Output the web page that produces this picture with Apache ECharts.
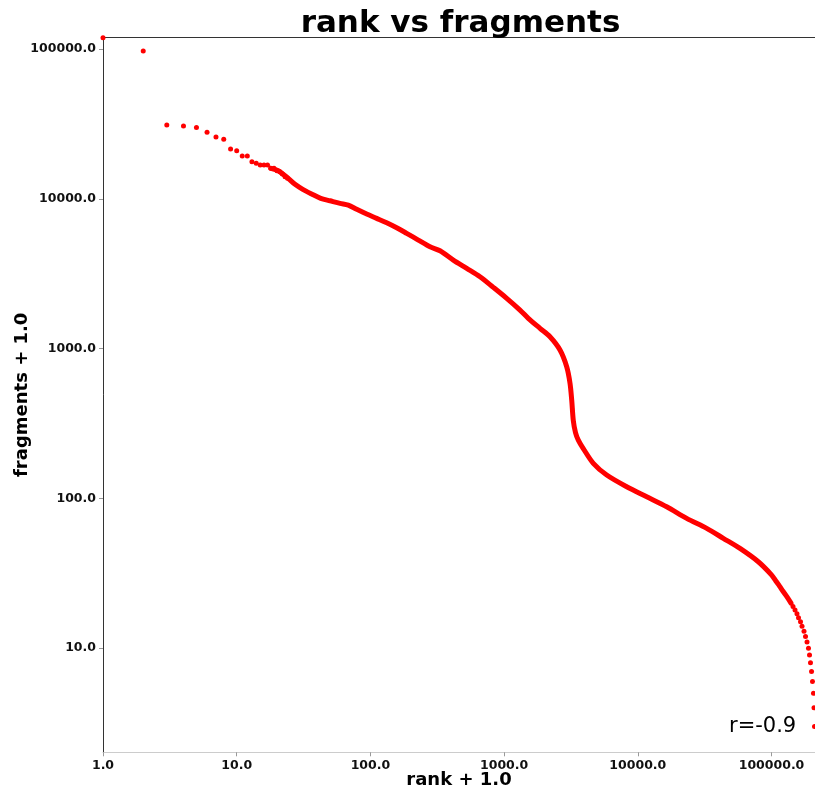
<!DOCTYPE html>
<html>
<head>
<meta charset="utf-8">
<script src="https://cdn.jsdelivr.net/npm/echarts@6/dist/echarts.min.js"></script>
<style>
html,body{margin:0;padding:0;background:#fff;}
#chart{width:815px;height:791px;}
</style>
</head>
<body>
<div id="chart"></div>
<script>
// ---- data ----
const headRank = [1, 2, 3, 4, 5, 6, 7, 8, 9, 10, 11, 12, 13, 14, 15, 16, 17, 18, 19, 20, 21, 22, 23, 24];
const headFrag = [119000, 97000, 31100, 30600, 30000, 27800, 25860, 24950, 21500, 20940, 19310, 19310, 17690, 17260, 16810, 16810, 16810, 15980, 15980, 15400, 15170, 14640, 14040, 13700];

const bodyRank = [18, 20.5, 22.1, 24.3, 27.3, 31.2, 36.4, 42.5, 49.9, 59.3, 68.3, 79, 93.8, 111.4, 132.4, 157.3, 186.8, 228.2, 279.1, 331.6, 417, 525.3, 660.2, 830.2, 1046, 1315, 1517, 1856, 2204, 2619, 2939, 3112, 3204, 3294, 3420, 3589, 3912, 4648, 5853, 8260, 11660, 16450, 23210, 32760, 43600, 58140, 79660, 100300, 108100, 114800, 121900, 130600, 139900];
const bodyFrag = [15980, 15400, 14640, 13700, 12500, 11570, 10770, 10080, 9710, 9330, 9090, 8510, 7915, 7410, 6926, 6415, 5885, 5309, 4788, 4502, 3904, 3436, 3020, 2566, 2167, 1810, 1594, 1366, 1200, 979, 757, 587, 454, 330, 275, 245, 215, 171.5, 143.3, 119.7, 102.6, 88.0, 73.6, 63.1, 54.2, 46.4, 37.8, 30.8, 28, 26, 24, 22, 20];

const tailRank = [144800, 149900, 155100, 159200, 164800, 169100, 175000, 179600, 184300, 189100, 192400, 195700, 199200, 202600, 206100, 207900, 209700];
const tailFrag = [19, 18, 17, 16, 15, 14, 13, 12, 11, 10, 9, 8, 7, 6, 5, 4, 3];

const xTicks = [1, 10, 100, 1000, 10000, 100000];
const yTicks = [10, 100, 1000, 10000, 100000];
const rText = 'r=-0.9';

const zip = (a, b) => a.map((v, i) => [v, b[i]]);
const fmt = v => {
  const l = Math.log10(v);
  return Math.abs(l - Math.round(l)) < 1e-6 ? Number(v).toFixed(1) : '';
};
const FONT = 'DejaVu Sans';
const RED = '#ff0000';

const chart = echarts.init(document.getElementById('chart'), null, {renderer: 'canvas'});
chart.setOption({
  animation: false,
  backgroundColor: '#ffffff',
  title: {
    text: 'rank vs fragments',
    left: 460.5,
    top: 8,
    padding: 0,
    textAlign: 'center',
    textStyle: {fontFamily: FONT, fontWeight: 'bold', fontSize: 31, color: '#000'}
  },
  grid: {left: 103, right: 0, top: 37.3, bottom: 38.7, containLabel: false, outerBoundsMode: 'none'},
  xAxis: [{
    type: 'log', logBase: 10, min: 1, max: 211500,
    position: 'bottom',
    name: 'rank + 1.0', nameLocation: 'middle', nameGap: 19, nameMoveOverlap: false,
    nameTextStyle: {fontFamily: FONT, fontWeight: 'bold', fontSize: 18, color: '#000', verticalAlign: 'top'},
    axisLine: {show: true, lineStyle: {color: '#cccccc', width: 1}},
    axisTick: {show: true, length: 4, customValues: xTicks, lineStyle: {color: '#999999'}},
    axisLabel: {show: true, customValues: xTicks, margin: 7, formatter: fmt,
      fontFamily: FONT, fontWeight: 'bold', fontSize: 12.5, color: '#111'},
    splitLine: {show: false}, minorTick: {show: false}
  }, {
    type: 'log', logBase: 10, min: 1, max: 211500,
    position: 'top',
    axisLine: {show: true, lineStyle: {color: '#333333', width: 1}},
    axisTick: {show: false}, axisLabel: {show: false}, splitLine: {show: false}
  }],
  yAxis: {
    type: 'log', logBase: 10, min: 2.02, max: 119800,
    name: 'fragments + 1.0', nameLocation: 'middle', nameGap: 72, nameRotate: 90, nameMoveOverlap: false,
    nameTextStyle: {fontFamily: FONT, fontWeight: 'bold', fontSize: 18, color: '#000'},
    axisLine: {show: true, lineStyle: {color: '#333333', width: 1}},
    axisTick: {show: true, length: 4, customValues: yTicks, lineStyle: {color: '#999999'}},
    axisLabel: {show: true, customValues: yTicks, margin: 7, formatter: fmt,
      fontFamily: FONT, fontWeight: 'bold', fontSize: 12.5, color: '#111'},
    splitLine: {show: false}, minorTick: {show: false}
  },
  series: [{
    name: 'body', type: 'line', xAxisIndex: 0,
    data: zip(bodyRank, bodyFrag),
    showSymbol: false, smooth: 0.3,
    lineStyle: {color: RED, width: 5, cap: 'round', join: 'round', opacity: 1},
    itemStyle: {color: RED}
  }, {
    name: 'head', type: 'scatter', xAxisIndex: 0,
    data: zip(headRank, headFrag),
    symbol: 'circle', symbolSize: 5, itemStyle: {color: RED, opacity: 1}
  }, {
    name: 'tail', type: 'scatter', xAxisIndex: 0,
    data: zip(tailRank, tailFrag),
    symbol: 'circle', symbolSize: 5, itemStyle: {color: RED, opacity: 1}
  }],
  graphic: [{
    type: 'text', x: 729, y: 727,
    style: {text: rText, fontFamily: FONT, fontSize: 21, fill: '#000', align: 'left', verticalAlign: 'middle'}
  }]
});
</script>
</body>
</html>
